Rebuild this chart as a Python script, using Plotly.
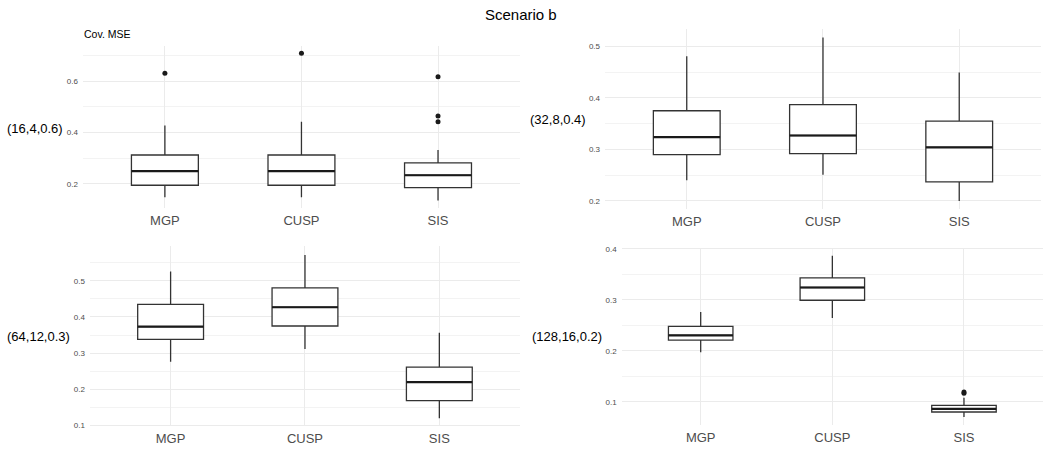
import plotly.graph_objects as go

methods = ['MGP', 'CUSP', 'SIS']
settings = ['(16,4,0.6)', '(32,8,0.4)', '(64,12,0.3)', '(128,16,0.2)']

# box statistics per setting: lower whisker, Q1, median, Q3, upper whisker
low = [[0.147, 0.147, 0.135], [0.240, 0.251, 0.200],
       [0.276, 0.311, 0.119], [0.197, 0.264, 0.070]]
q1 = [[0.194, 0.194, 0.185], [0.290, 0.292, 0.237],
      [0.338, 0.375, 0.168], [0.221, 0.299, 0.080]]
med = [[0.249, 0.249, 0.233], [0.324, 0.327, 0.304],
       [0.373, 0.427, 0.219], [0.230, 0.324, 0.086]]
q3 = [[0.312, 0.312, 0.281], [0.375, 0.387, 0.355],
      [0.435, 0.481, 0.261], [0.248, 0.343, 0.093]]
high = [[0.427, 0.442, 0.331], [0.481, 0.517, 0.449],
        [0.526, 0.572, 0.356], [0.276, 0.386, 0.108]]

# outliers per setting
out_x = [['MGP', 'CUSP', 'SIS', 'SIS', 'SIS'], [], [], ['SIS', 'SIS']]
out_y = [[0.631, 0.709, 0.617, 0.464, 0.442], [], [], [0.119, 0.117]]

yranges = [[0.106, 0.738], [0.184, 0.533], [0.096, 0.596], [0.054, 0.402]]
ydtick = [0.2, 0.1, 0.1, 0.1]

xdom = [[0.0790, 0.4952], [0.5762, 0.9914], [0.0857, 0.4952], [0.5921, 0.9933]]
ydom = [[0.5387, 0.9038], [0.5356, 0.9407], [0.0462, 0.4518], [0.0489, 0.4489]]
label_pos = [(0.005, 0.718), (0.503, 0.738), (0.005, 0.249), (0.505, 0.249)]

fig = go.Figure()
layout = {}
for i in range(4):
    n = '' if i == 0 else str(i + 1)
    xa, ya = 'x' + n, 'y' + n
    fig.add_trace(go.Box(
        x=methods, q1=q1[i], median=med[i], q3=q3[i],
        lowerfence=low[i], upperfence=high[i],
        fillcolor='white', line=dict(color='#333333', width=1.3),
        whiskerwidth=0, xaxis=xa, yaxis=ya, showlegend=False,
        hoverinfo='skip'))
    # thicker median line like ggplot
    fig.add_trace(go.Box(
        x=methods, q1=med[i], median=med[i], q3=med[i],
        lowerfence=med[i], upperfence=med[i],
        fillcolor='rgba(0,0,0,0)', line=dict(color='#1a1a1a', width=2.2),
        whiskerwidth=0, xaxis=xa, yaxis=ya, showlegend=False,
        hoverinfo='skip'))
    if out_x[i]:
        fig.add_trace(go.Scatter(
            x=out_x[i], y=out_y[i], mode='markers',
            marker=dict(color='#1a1a1a', size=5),
            xaxis=xa, yaxis=ya, showlegend=False))
    layout['xaxis' + n] = dict(
        domain=xdom[i], anchor=ya, type='category',
        categoryorder='array', categoryarray=methods,
        range=[-0.6, 2.6], showgrid=True, gridcolor='#ebebeb',
        gridwidth=1, zeroline=False, ticks='', showline=False,
        tickfont=dict(size=13, color='#4d4d4d'), ticklabelstandoff=3)
    layout['yaxis' + n] = dict(
        domain=ydom[i], anchor=xa, range=yranges[i], dtick=ydtick[i],
        showgrid=True, gridcolor='#ebebeb', gridwidth=1, zeroline=False,
        ticks='', showline=False, tickformat='.1f',
        tickfont=dict(size=8, color='#4d4d4d'), ticklabelstandoff=4,
        minor=dict(dtick=ydtick[i] / 2, showgrid=True,
                   gridcolor='#f3f3f3', gridwidth=1))

annotations = [
    dict(text='Scenario b', x=0.496, y=0.973, xref='paper', yref='paper',
         xanchor='center', yanchor='middle', showarrow=False,
         font=dict(size=15, color='black')),
    dict(text='Cov. MSE', x=0.0785, y=0.9296, xref='paper', yref='paper',
         xanchor='left', yanchor='middle', showarrow=False,
         font=dict(size=10.5, color='black')),
]
for lab, (lx, ly) in zip(settings, label_pos):
    annotations.append(dict(text=lab, x=lx, y=ly, xref='paper', yref='paper',
                            xanchor='left', yanchor='middle', showarrow=False,
                            font=dict(size=13, color='black')))

fig.update_layout(
    width=1050, height=450,
    margin=dict(l=0, r=0, t=0, b=0),
    paper_bgcolor='white', plot_bgcolor='white',
    font=dict(family='Liberation Sans, Arial, sans-serif'),
    annotations=annotations,
    boxmode='overlay',
    **layout
)

fig.write_html('out.html', config={'displayModeBar': False},
               post_script="document.body.style.margin='0';")
